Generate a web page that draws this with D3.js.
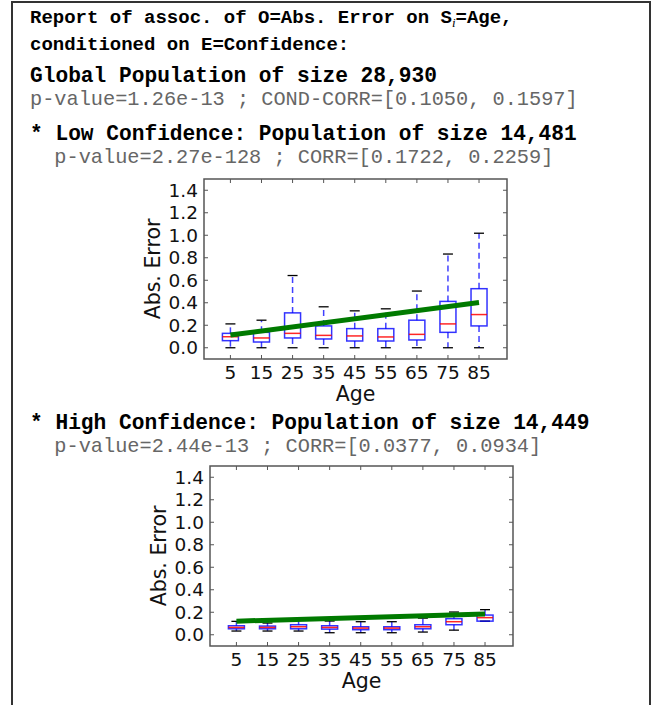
<!DOCTYPE html>
<html><head><meta charset="utf-8">
<script src="https://cdn.jsdelivr.net/npm/d3@7"></script>
<style>body{margin:0;background:#fff}</style>
</head><body>
<script>
// ---- data ----
const ages = [5, 15, 25, 35, 45, 55, 65, 75, 85];
const yTicks = [0.0, 0.2, 0.4, 0.6, 0.8, 1.0, 1.2, 1.4];
// Low confidence boxplots
const lowWhiskerLo = [0, 0, 0, 0, 0, 0, 0, 0, 0];
const lowQ1 = [0.063, 0.051, 0.087, 0.078, 0.060, 0.060, 0.069, 0.137, 0.194];
const lowMed = [0.098, 0.087, 0.128, 0.110, 0.105, 0.096, 0.119, 0.212, 0.295];
const lowQ3 = [0.128, 0.137, 0.310, 0.194, 0.170, 0.170, 0.245, 0.412, 0.525];
const lowWhiskerHi = [0.212, 0.245, 0.642, 0.364, 0.328, 0.346, 0.504, 0.833, 1.018];
const lowFitAge = [5, 85];
const lowFit = [0.113, 0.403];
// High confidence boxplots
const highWhiskerLo = [0.033, 0.033, 0.033, 0.018, 0.018, 0.018, 0.024, 0.041, 0.121];
const highQ1 = [0.053, 0.053, 0.053, 0.050, 0.045, 0.045, 0.053, 0.089, 0.121];
const highMed = [0.065, 0.065, 0.071, 0.065, 0.059, 0.059, 0.071, 0.116, 0.152];
const highQ3 = [0.080, 0.077, 0.089, 0.080, 0.071, 0.071, 0.089, 0.143, 0.175];
const highWhiskerHi = [0.119, 0.104, 0.134, 0.122, 0.116, 0.116, 0.148, 0.202, 0.223];
const highFitAge = [5, 85];
const highFit = [0.121, 0.184];

const W = 652, H = 705;
const svg = d3.select("body").append("svg").attr("width", W).attr("height", H);

// outer border
svg.append("path").attr("d", `M12,${H} L12,2 L650,2 L650,${H}`)
  .attr("fill", "none").attr("stroke", "#333").attr("stroke-width", 2);

const mono = "'Liberation Mono', 'Courier New', monospace";
function boldLine(x, y, txt, size) {
  return svg.append("text").attr("x", x).attr("y", y).attr("font-family", mono)
    .attr("font-weight", "bold").attr("font-size", size).attr("fill", "#000")
    .attr("xml:space", "preserve").text(txt);
}
function grayLine(x, y, txt) {
  return svg.append("text").attr("x", x).attr("y", y).attr("font-family", mono)
    .attr("font-size", 20.3).attr("fill", "#666").attr("xml:space", "preserve").text(txt);
}
const t1 = svg.append("text").attr("x", 30).attr("y", 23).attr("font-family", mono)
  .attr("font-weight", "bold").attr("font-size", 19).attr("fill", "#000");
t1.append("tspan").text("Report of assoc. of O=Abs. Error on S");
t1.append("tspan").attr("font-family", "'Liberation Serif', serif").attr("font-style", "italic")
  .attr("font-weight", "normal").attr("font-size", 13).attr("dy", 4).text("i");
t1.append("tspan").attr("dy", -4).text("=Age,");
boldLine(30, 50, "conditioned on E=Confidence:", 19);
boldLine(30, 82, "Global Population of size 28,930", 21.2);
grayLine(30, 105, "p-value=1.26e-13 ; COND-CORR=[0.1050, 0.1597]");
boldLine(30, 140, "* Low Confidence: Population of size 14,481", 21.2);
grayLine(30, 163, "  p-value=2.27e-128 ; CORR=[0.1722, 0.2259]");
boldLine(30, 429, "* High Confidence: Population of size 14,449", 21.2);
grayLine(30, 452, "  p-value=2.44e-13 ; CORR=[0.0377, 0.0934]");

function drawPlot(box, d) {
  const g = svg.append("g");
  const x = d3.scaleLinear().domain([-3.5, 94]).range([box.l, box.r]);
  const y = d3.scaleLinear().domain([-0.1, 1.5]).range([box.b, box.t]);
  const bw = 16, cw = 10;
  const font = "'DejaVu Sans', sans-serif";
  const tc = "#555";
  yTicks.forEach(v => {
    g.append("line").attr("x1", box.l).attr("x2", box.l + 4).attr("y1", y(v)).attr("y2", y(v)).attr("stroke", tc);
    g.append("line").attr("x1", box.r).attr("x2", box.r - 4).attr("y1", y(v)).attr("y2", y(v)).attr("stroke", tc);
    g.append("text").attr("x", box.l - 6).attr("y", y(v)).attr("dy", "0.36em").attr("text-anchor", "end")
      .attr("font-family", font).attr("font-size", 18.5).attr("fill", "#111").text(v.toFixed(1));
  });
  ages.forEach(a => {
    g.append("line").attr("x1", x(a)).attr("x2", x(a)).attr("y1", box.b).attr("y2", box.b - 4).attr("stroke", tc);
    g.append("line").attr("x1", x(a)).attr("x2", x(a)).attr("y1", box.t).attr("y2", box.t + 4).attr("stroke", tc);
    g.append("text").attr("x", x(a)).attr("y", box.b + 20).attr("text-anchor", "middle")
      .attr("font-family", font).attr("font-size", 18.5).attr("fill", "#111").text(a);
  });
  ages.forEach((a, i) => {
    const cx = x(a);
    g.append("line").attr("x1", cx).attr("x2", cx).attr("y1", y(d.q3[i])).attr("y2", y(d.hi[i]))
      .attr("stroke", "#0000ff").attr("stroke-opacity", 0.75).attr("stroke-width", 1.5).attr("stroke-dasharray", "6,4");
    g.append("line").attr("x1", cx).attr("x2", cx).attr("y1", y(d.q1[i])).attr("y2", y(d.lo[i]))
      .attr("stroke", "#0000ff").attr("stroke-opacity", 0.75).attr("stroke-width", 1.5).attr("stroke-dasharray", "6,4");
    g.append("line").attr("x1", cx - cw / 2).attr("x2", cx + cw / 2).attr("y1", y(d.hi[i])).attr("y2", y(d.hi[i]))
      .attr("stroke", "#000").attr("stroke-width", 1.3);
    g.append("line").attr("x1", cx - cw / 2).attr("x2", cx + cw / 2).attr("y1", y(d.lo[i])).attr("y2", y(d.lo[i]))
      .attr("stroke", "#000").attr("stroke-width", 1.3);
    g.append("rect").attr("x", cx - bw / 2).attr("y", y(d.q3[i])).attr("width", bw)
      .attr("height", y(d.q1[i]) - y(d.q3[i])).attr("fill", "none")
      .attr("stroke", "#0000ff").attr("stroke-opacity", 0.8).attr("stroke-width", 1.5);
    g.append("line").attr("x1", cx - bw / 2).attr("x2", cx + bw / 2).attr("y1", y(d.med[i])).attr("y2", y(d.med[i]))
      .attr("stroke", "#ff0000").attr("stroke-opacity", 0.85).attr("stroke-width", 1.5);
  });
  const line = d3.line().x(p => x(p[0])).y(p => y(p[1]));
  g.append("path").attr("d", line(d.fitX.map((a, i) => [a, d.fit[i]])))
    .attr("stroke", "#007a00").attr("stroke-width", 5).attr("fill", "none");
  g.append("rect").attr("x", box.l).attr("y", box.t).attr("width", box.r - box.l).attr("height", box.b - box.t)
    .attr("fill", "none").attr("stroke", "#555").attr("stroke-width", 1.5);
  g.append("text").attr("x", (box.l + box.r) / 2).attr("y", box.b + 42).attr("text-anchor", "middle")
    .attr("font-family", font).attr("font-size", 20.5).attr("fill", "#111").text("Age");
  g.append("text").attr("transform", `translate(${box.ylx},${(box.t + box.b) / 2}) rotate(-90)`)
    .attr("text-anchor", "middle").attr("font-family", font).attr("font-size", 20.5).attr("fill", "#111").text("Abs. Error");
}

drawPlot({l: 204, r: 507, t: 179, b: 359, ylx: 160},
  {lo: lowWhiskerLo, q1: lowQ1, med: lowMed, q3: lowQ3, hi: lowWhiskerHi, fitX: lowFitAge, fit: lowFit});
drawPlot({l: 210, r: 513, t: 466, b: 646, ylx: 166},
  {lo: highWhiskerLo, q1: highQ1, med: highMed, q3: highQ3, hi: highWhiskerHi, fitX: highFitAge, fit: highFit});
</script>
</body></html>
